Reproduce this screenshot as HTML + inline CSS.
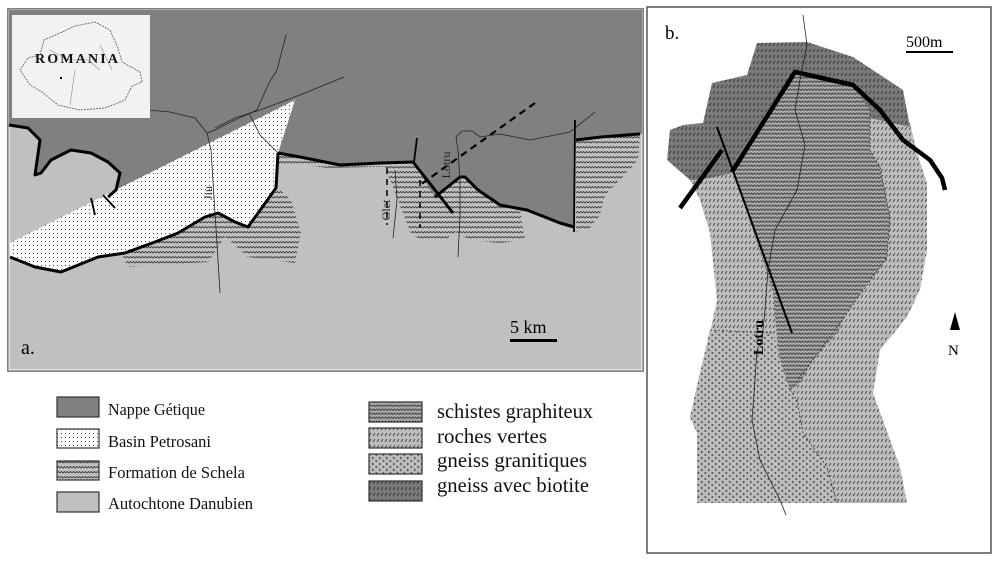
<!DOCTYPE html>
<html><head><meta charset="utf-8"><style>
html,body{margin:0;padding:0;background:#fff;}
svg{display:block;font-family:"Liberation Serif",serif;}
</style></head><body>
<svg width="1000" height="563" viewBox="0 0 1000 563" xmlns="http://www.w3.org/2000/svg">
<defs>
<pattern id="dots" width="4" height="4" patternUnits="userSpaceOnUse"><rect width="4" height="4" fill="#fff"/><rect x="1" y="1" width="1" height="1" fill="#444"/></pattern>
<pattern id="wavyA" width="6" height="5" patternUnits="userSpaceOnUse"><rect width="6" height="5" fill="#c0c0c0"/><path d="M0 3 L1.5 1.5 L3 3 L4.5 1.5 L6 3" stroke="#333" stroke-width="0.8" fill="none"/></pattern>
<pattern id="wavyB" width="6" height="4" patternUnits="userSpaceOnUse"><rect width="6" height="4" fill="#a8a8a8"/><path d="M0 2.5 L1.5 1 L3 2.5 L4.5 1 L6 2.5" stroke="#333" stroke-width="0.8" fill="none"/></pattern>
<pattern id="hatchL" width="4" height="6" patternUnits="userSpaceOnUse"><rect width="4" height="6" fill="#bdbdbd"/><path d="M1 4 L3 1" stroke="#444" stroke-width="0.9"/></pattern>
<pattern id="hatchD" width="4" height="6" patternUnits="userSpaceOnUse"><rect width="4" height="6" fill="#7a7a7a"/><path d="M1 4 L3 1" stroke="#333" stroke-width="0.9"/></pattern>
<pattern id="gran" width="7" height="6" patternUnits="userSpaceOnUse"><rect width="7" height="6" fill="#bdbdbd"/><path d="M1 1 L2.5 2 L1 3 M4.5 4 L6 5 L4.5 6" stroke="#444" stroke-width="0.8" fill="none"/></pattern>
</defs>

<!-- panel a -->
<rect x="8" y="9" width="635" height="362" fill="#c0c0c0" stroke="#555" stroke-width="1.5"/>
<rect x="9" y="10" width="633" height="360" fill="none" stroke="#fff" stroke-width="1"/>
<path d="M280 190 L291 200 L301 233 L295 263 L248 257 L225 237 L208 262 L128 267 L121 253 L155 242 L178 233 L205 217 L218 213 L235 222 L248 227 L276 188 Z" fill="url(#wavyA)"/>
<path d="M278 153 L415 160 L413 166 L330 168 L300 165 L278 166 Z" fill="url(#wavyA)"/>
<path d="M383 162 L415 160 L435 197 L463 177 L478 190 L500 205 L520 210 L525 240 L500 243 L470 240 L455 232 L445 240 L420 240 L410 232 L400 205 L390 180 Z" fill="url(#wavyA)"/>
<path d="M576 140 L600 137 L640 134 L638 160 L620 180 L605 195 L600 215 L590 228 L576 232 Z" fill="url(#wavyA)"/>
<path d="M9 10 L642 10 L642 134 L601 137 L576 140 L574 227 L560 223 L527 210 L500 205 L478 190 L465 177 L460 177 L435 197 L413 162 L380 163 L340 165 L300 157 L278 153 L295 100 L108 197 L116 190 L120 173 L108 162 L91 153 L71 150 L51 160 L41 173 L35 175 L40 140 L28 128 L9 125 Z" fill="#808080"/>
<path d="M10 243 L295 100 L278 153 L276 188 L248 227 L235 222 L218 213 L205 217 L178 233 L155 242 L125 253 L98 257 L61 272 L35 267 L10 257 Z" fill="url(#dots)"/>
<g fill="none" stroke="#000" stroke-width="3" stroke-linejoin="round">
<path d="M9 125 L28 128 L40 140 L35 175 L41 173 L51 160 L71 150 L91 153 L108 162 L120 173 L116 190 L108 197"/>
<path d="M10 257 L35 267 L61 272 L98 257 L125 253 L155 242 L178 233 L205 217 L218 213 L235 222 L248 227 L276 188 L278 153"/>
<path d="M278 153 L300 157 L340 165 L380 163 L413 162"/>
<path d="M413 162 L453 213"/>
<path d="M435 197 L460 177 L465 177 L478 190 L500 205 L527 210 L560 223 L574 227"/>
<path d="M576 140 L601 137 L640 134"/>
</g>
<g fill="none" stroke="#000" stroke-width="1.8">
<path d="M91 198 L95 215 M103 195 L115 208"/>
<path d="M417 138 L414 162"/>
<path d="M575 120 L574 232"/>
</g>
<path d="M535 103 L420 185" stroke="#000" stroke-width="2.2" stroke-dasharray="7 5" fill="none"/>
<path d="M420 180 L420 228 M387 168 L387 225" stroke="#000" stroke-width="1.5" stroke-dasharray="6 5" fill="none"/>
<g fill="none" stroke="#222" stroke-width="0.8">
<path d="M286 35 L277 70 L269 83 L257 110 L235 120 L215 130 L207 133 L211 150 L215 213 L218 260 L220 293"/>
<path d="M344 77 L300 95 L260 110 L235 118 L215 128"/>
<path d="M149 110 L170 112 L195 118 L207 133"/>
<path d="M249 113 L260 135 L278 153"/>
<path d="M395 170 L397 200 L393 238"/>
<path d="M458 257 L460 215 L460 180 L458 150 L456 137 L462 131 L472 131 L480 137 L500 134 L530 140 L570 132 L595 112"/>
</g>
<text x="212" y="193" font-size="12" fill="#222" transform="rotate(-90 212 193)" text-anchor="middle">Jiu</text>
<text x="450" y="165" font-size="12" fill="#222" transform="rotate(-90 450 165)" text-anchor="middle">Lotru</text>
<text x="390" y="210" font-size="12" fill="#222" transform="rotate(-90 390 210)" text-anchor="middle">Olet</text>
<rect x="12" y="15" width="138" height="103" fill="#f2f2f2"/>
<path d="M40 55 L44 40 L60 33 L75 26 L95 22 L110 30 L118 48 L122 62 L140 72 L142 82 L132 86 L125 100 L105 108 L80 110 L58 105 L42 92 L30 85 L20 70 L28 58 Z" fill="none" stroke="#555" stroke-width="0.8" stroke-dasharray="2 1"/>
<path d="M50 50 L68 60 L88 60 L100 70 M75 70 L70 105 M100 45 L112 70" fill="none" stroke="#888" stroke-width="0.6"/>
<rect x="60" y="77" width="2" height="2" fill="#000"/>
<text x="35" y="63" font-size="14" font-weight="bold" fill="#111" textLength="83">ROMANIA</text>
<text x="510" y="333" font-size="18" fill="#000">5 km</text>
<rect x="510" y="339" width="47" height="3" fill="#000"/>
<text x="21" y="354" font-size="20" fill="#000">a.</text>

<!-- panel b -->
<rect x="647" y="7" width="344" height="546" fill="#fff" stroke="#555" stroke-width="1.5"/>
<path d="M690 180 L700 200 L710 233 L717 300 L710 333 L700 373 L690 417 L697 433 L697 503 L907 503 L900 467 L873 393 L880 350 L907 317 L920 290 L927 250 L927 183 L917 153 L910 123 L870 118 L793 72 L733 173 Z" fill="url(#hatchL)"/>
<path d="M667 160 L670 130 L683 125 L703 123 L712 83 L747 75 L757 43 L807 42 L853 57 L903 90 L910 127 L870 118 L850 100 L800 80 L793 75 L733 173 L700 180 L690 180 Z" fill="url(#hatchD)"/>
<path d="M710 330 L773 333 L790 390 L797 400 L803 433 L827 467 L837 503 L697 503 L697 433 L690 417 L700 373 Z" fill="url(#gran)"/>
<path d="M733 170 L793 72 L853 85 L870 110 L870 150 L880 167 L890 217 L887 257 L873 277 L860 293 L847 313 L837 333 L813 360 L800 383 L790 390 L780 360 L777 337 L773 293 L767 273 Z" fill="url(#wavyB)"/>
<path d="M870 110 L870 150 L880 167 L890 217 L887 257 L873 277 L847 313 L813 360 L790 390 M710 330 L773 333 M790 390 L797 400 L803 433 L827 467 L837 503" fill="none" stroke="#333" stroke-width="0.8" stroke-dasharray="2 2"/>
<g fill="none" stroke="#000" stroke-linejoin="round">
<path d="M680 208 L722 150" stroke-width="4.5"/>
<path d="M732 172 L795 72 L853 85 L880 110 L903 140 L930 160 L942 178 L945 190" stroke-width="4.5"/>
<path d="M717 127 L792 333" stroke-width="2"/>
</g>
<path d="M803 15 L807 45 L800 80 L795 110 L805 145 L797 190 L775 230 L768 270 L765 310 L762 340 L757 350 L755 380 L752 420 L760 460 L780 500 L786 515" fill="none" stroke="#222" stroke-width="0.8"/>
<text x="763" y="355" font-size="14" font-weight="bold" fill="#000" transform="rotate(-90 763 355)">Lotru</text>
<text x="665" y="39" font-size="19" fill="#000">b.</text>
<text x="906" y="47" font-size="16" fill="#000">500m</text>
<rect x="906" y="51" width="47" height="2" fill="#000"/>
<path d="M955 312 L950 330 L960 330 Z" fill="#000"/>
<text x="948" y="355" font-size="15" fill="#000">N</text>

<!-- legend -->
<g stroke="#333" stroke-width="1.2">
<rect x="57" y="397" width="42" height="20" fill="#808080"/>
<rect x="57" y="429" width="42" height="19" fill="url(#dots)"/>
<rect x="57" y="461" width="42" height="19" fill="url(#wavyA)"/>
<rect x="57" y="492" width="42" height="20" fill="#c0c0c0"/>
<rect x="369" y="402" width="53" height="20" fill="url(#wavyB)"/>
<rect x="369" y="428" width="53" height="20" fill="url(#hatchL)"/>
<rect x="369" y="454" width="53" height="20" fill="url(#gran)"/>
<rect x="369" y="481" width="53" height="20" fill="url(#hatchD)"/>
</g>
<g font-size="17" fill="#111">
<text x="108" y="415" textLength="97" lengthAdjust="spacingAndGlyphs">Nappe Gétique</text>
<text x="108" y="447" textLength="103" lengthAdjust="spacingAndGlyphs">Basin Petrosani</text>
<text x="108" y="478" textLength="137" lengthAdjust="spacingAndGlyphs">Formation de Schela</text>
<text x="108" y="509" textLength="145" lengthAdjust="spacingAndGlyphs">Autochtone Danubien</text>
</g>
<g font-size="21" fill="#111">
<text x="437" y="418" textLength="156" lengthAdjust="spacingAndGlyphs">schistes graphiteux</text>
<text x="437" y="443" textLength="110" lengthAdjust="spacingAndGlyphs">roches vertes</text>
<text x="437" y="467" textLength="150" lengthAdjust="spacingAndGlyphs">gneiss granitiques</text>
<text x="437" y="492" textLength="152" lengthAdjust="spacingAndGlyphs">gneiss avec biotite</text>
</g>
</svg>
</body></html>
